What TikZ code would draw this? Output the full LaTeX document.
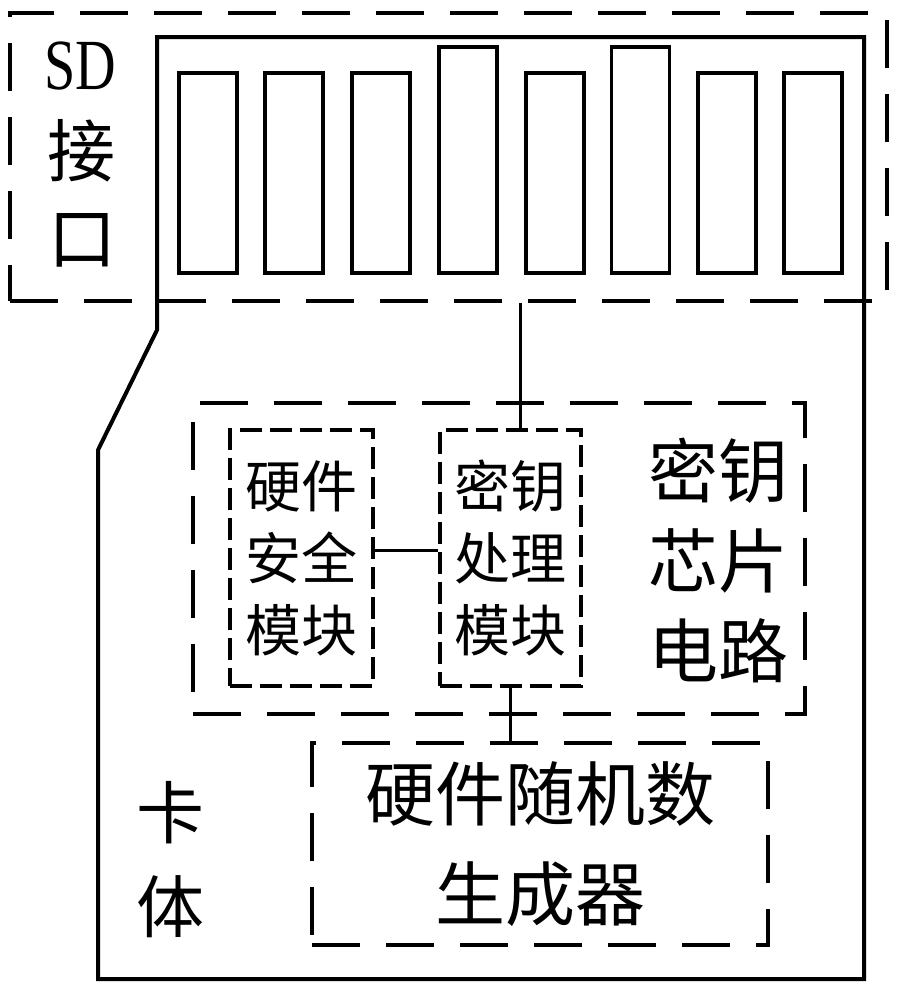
\documentclass[tikz,border=0pt]{standalone}
\usepackage{fontspec}
\setmainfont{Liberation Serif}
\newfontfamily\cjk{Noto Sans CJK SC}
\begin{document}
\begin{tikzpicture}[x=1pt,y=-1pt,
  cardline/.style={line width=4pt, line join=miter},
  bigdash/.style={draw, line width=3.4pt, dash pattern=on 48pt off 26pt, inner sep=0pt},
  smalldash/.style={draw, line width=3.4pt, dash pattern=on 22pt off 8pt, inner sep=0pt},
  pinbox/.style={draw, line width=3.6pt, minimum width=58pt, inner sep=0pt},
  conn/.style={line width=3pt},
  lbl/.style={inner sep=0pt, align=center}]
\useasboundingbox (0,0) rectangle (899,991);
% SD interface region
\node[bigdash, minimum width=877pt, minimum height=288pt] (sd) at (448.5,157) {};
% card body
\draw[cardline] (157,330) -- (157,37) -- (864,37) -- (864,979) -- (98,979) -- (98,450) -- cycle;
% pins
\node[pinbox, minimum height=200pt] (pin1) at (208,173) {};
\node[pinbox, minimum height=200pt] (pin2) at (294,173) {};
\node[pinbox, minimum height=200pt] (pin3) at (381,173) {};
\node[pinbox, minimum height=226pt] (pin4) at (468,160) {};
\node[pinbox, minimum height=200pt] (pin5) at (555,173) {};
\node[pinbox, minimum height=226pt] (pin6) at (640.5,160) {};
\node[pinbox, minimum height=200pt] (pin7) at (727,173) {};
\node[pinbox, minimum height=200pt] (pin8) at (813,173) {};
% SD label
\node[lbl, font=\fontsize{72}{72}\selectfont] (sdt) at (80,66) {\scalebox{0.78}[1]{SD}};
\node[lbl, font=\cjk\fontsize{68}{68}\selectfont] (jie) at (81,151) {接};
\node[lbl, font=\cjk\fontsize{68}{68}\selectfont] (kou) at (82,240) {口};
% key chip circuit
\node[bigdash, minimum width=612pt, minimum height=311pt] (chip) at (499,558.5) {};
\node[lbl, font=\cjk\fontsize{70}{90}\selectfont] (chipt) at (718,560) {密钥\\芯片\\电路};
% modules
\node[smalldash, minimum width=143pt, minimum height=256pt, font=\cjk\fontsize{56}{72}\selectfont, align=center] (hsm) at (301.5,558) {硬件\\安全\\模块};
\node[smalldash, minimum width=141pt, minimum height=256pt, font=\cjk\fontsize{56}{72}\selectfont, align=center] (kp) at (510.5,558) {密钥\\处理\\模块};
% random number generator
\node[bigdash, minimum width=456pt, minimum height=202pt, font=\cjk\fontsize{70}{100}\selectfont, align=center] (rng) at (540,844) {硬件随机数\\生成器};
% card body label
\node[lbl, font=\cjk\fontsize{68}{94}\selectfont] (katext) at (170,860) {卡\\体};
% connectors
\coordinate (topc) at ([xshift=9.5pt]kp.north);
\draw[conn] (topc) -- (topc |- sd.south);
\coordinate (hl) at ([yshift=8pt]hsm.east);
\draw[conn] (hl) -- (hl -| kp.west);
\draw[conn] (kp.south) -- (kp.south |- rng.north);
\end{tikzpicture}
\end{document}
